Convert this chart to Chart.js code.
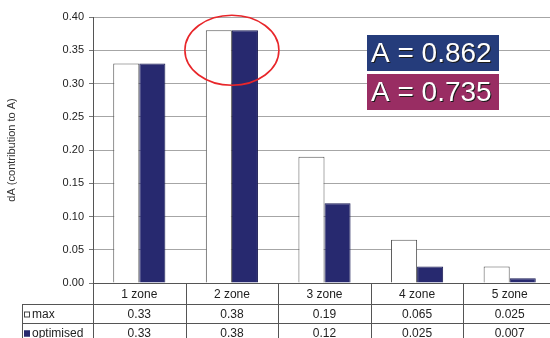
<!DOCTYPE html>
<html>
<head>
<meta charset="utf-8">
<script src="https://cdn.jsdelivr.net/npm/chart.js@4/dist/chart.umd.min.js"></script>
<style>
  html, body { margin: 0; padding: 0; background: #fff; overflow: hidden; }
  #wrap { width: 550px; height: 338px; overflow: hidden; }
  canvas { display: block; }
</style>
</head>
<body>
<div id="wrap"><canvas id="c" width="556" height="338"></canvas></div>
<script>
// Contribution of each zone count to A
const categories = ['1 zone', '2 zone', '3 zone', '4 zone', '5 zone'];
const seriesNames = ['max', 'optimised'];
const maxValues = [0.33, 0.38, 0.19, 0.065, 0.025];
const optimisedValues = [0.33, 0.38, 0.12, 0.025, 0.007];
const yTickValues = [0, 0.05, 0.10, 0.15, 0.20, 0.25, 0.30, 0.35, 0.40];
const yTitle = 'dA (contribution to A)';
const scoreLabels = ['A = 0.862', 'A = 0.735'];
const highlightIndex = 1;

const NAVY = '#27296f';
const FONT = '"Liberation Sans", Arial, sans-serif';
const LINE = '#555555';

// Data table under the plot, callout ellipse and score boxes
const extras = {
  id: 'extras',
  afterDraw(chart) {
    const ctx = chart.ctx;
    const x = chart.scales.x, y = chart.scales.y;
    const a = chart.chartArea;
    const top = a.bottom;
    const rows = [top, top + 21, top + 40, top + 59];
    const tableLeft = 22;
    const step = (a.right - a.left) / categories.length;
    ctx.save();
    ctx.strokeStyle = LINE;
    ctx.lineWidth = 1;
    ctx.beginPath();
    // horizontal rules
    ctx.moveTo(tableLeft, rows[1] + 0.5); ctx.lineTo(chart.width, rows[1] + 0.5);
    ctx.moveTo(tableLeft, rows[2] + 0.5); ctx.lineTo(chart.width, rows[2] + 0.5);
    // legend column left border
    ctx.moveTo(tableLeft + 0.5, rows[1]); ctx.lineTo(tableLeft + 0.5, chart.height);
    // column borders
    for (let i = 0; i <= categories.length; i++) {
      const cx = Math.round(a.left + step * i) + 0.5;
      ctx.moveTo(cx, top); ctx.lineTo(cx, chart.height);
    }
    ctx.stroke();

    ctx.fillStyle = '#222';
    ctx.font = '12px ' + FONT;
    ctx.textAlign = 'center';
    ctx.textBaseline = 'middle';
    const series = [maxValues, optimisedValues];
    categories.forEach((c, i) => {
      const cx = x.getPixelForValue(i);
      ctx.fillText(c, cx, (rows[0] + rows[1]) / 2 + 1);
      series.forEach((vals, s) => {
        ctx.fillText(String(vals[i]), cx, (rows[s + 1] + rows[s + 2]) / 2 + 1);
      });
    });

    // legend keys
    ctx.textAlign = 'left';
    seriesNames.forEach((name, s) => {
      const cy = (rows[s + 1] + rows[s + 2]) / 2 + 1;
      ctx.fillStyle = s === 0 ? '#fff' : NAVY;
      ctx.fillRect(24, cy - 3, 6, 6);
      ctx.strokeStyle = s === 0 ? '#444' : NAVY;
      ctx.strokeRect(24.5, cy - 2.5, 5, 5);
      ctx.fillStyle = '#222';
      ctx.fillText(name, 32, cy);
    });

    // callout ellipse around the highlighted zone
    const ex = x.getPixelForValue(highlightIndex);
    const ey = y.getPixelForValue(0.35);
    ctx.strokeStyle = '#e8262a';
    ctx.lineWidth = 1.6;
    ctx.beginPath();
    ctx.ellipse(ex, ey, 47, 35, 0, 0, Math.PI * 2);
    ctx.stroke();

    // score boxes
    const boxColors = ['#253c7b', '#992d63'];
    const bx = 367, bw = 132;
    const boxTops = [35, 74];
    ctx.font = '28px ' + FONT;
    ctx.textAlign = 'left';
    scoreLabels.forEach((t, i) => {
      ctx.fillStyle = boxColors[i];
      ctx.fillRect(bx, boxTops[i], bw, 36);
      ctx.fillStyle = '#1a1a1a';
      ctx.fillText(t, bx + 5, boxTops[i] + 20);
      ctx.fillStyle = '#ffffff';
      ctx.fillText(t, bx + 4, boxTops[i] + 19);
    });
    ctx.restore();
  }
};

new Chart(document.getElementById('c'), {
  type: 'bar',
  data: {
    labels: categories,
    datasets: [
      {
        label: seriesNames[0],
        data: maxValues,
        backgroundColor: '#ffffff',
        borderColor: '#555555',
        borderWidth: 1
      },
      {
        label: seriesNames[1],
        data: optimisedValues,
        backgroundColor: NAVY,
        borderColor: '#1c1e55',
        borderWidth: 1
      }
    ]
  },
  options: {
    responsive: false,
    animation: false,
    events: [],
    layout: { padding: { top: 17, left: 0, right: 0, bottom: 0 } },
    plugins: { legend: { display: false }, tooltip: { enabled: false } },
    datasets: { bar: { categoryPercentage: 0.563, barPercentage: 1 } },
    scales: {
      x: {
        grid: { display: false },
        ticks: { display: false },
        border: { display: true, color: LINE, width: 1 },
        afterFit(scale) { scale.height = 55; }
      },
      y: {
        min: 0,
        max: 0.4,
        afterBuildTicks(scale) { scale.ticks = yTickValues.map(v => ({ value: v })); },
        ticks: {
          padding: 5,
          color: '#222',
          font: { family: FONT, size: 11 },
          callback: v => Number(v).toFixed(2)
        },
        grid: { color: '#a6a6a6', tickLength: 4, tickColor: '#777' },
        border: { color: LINE, width: 1 },
        title: {
          display: true,
          text: yTitle,
          color: '#333',
          font: { family: FONT, size: 11 },
          padding: { top: 5, bottom: 0 }
        },
        afterFit(scale) { scale.width = 93; }
      }
    }
  },
  plugins: [extras]
});
</script>
</body>
</html>
